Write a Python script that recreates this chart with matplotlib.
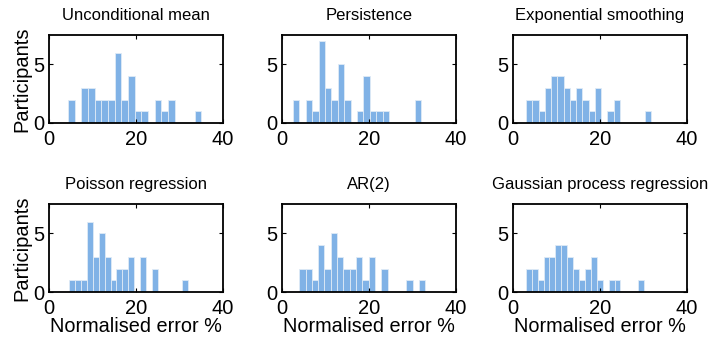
import matplotlib
matplotlib.use("Agg")
import matplotlib.pyplot as plt
import numpy as np

plt.rcParams['font.family'] = ['Liberation Sans', 'DejaVu Sans']

titles = ["Unconditional mean", "Persistence", "Exponential smoothing",
          "Poisson regression", "AR(2)", "Gaussian process regression"]

counts_uncond = [2, 0, 3, 3, 2, 2, 2, 6, 2, 4, 1, 1, 0, 2, 1, 2, 0, 0, 0, 1]
counts_persist = [2, 0, 2, 1, 7, 3, 2, 5, 2, 0, 1, 4, 1, 1, 1, 0, 0, 0, 0, 2]
counts_expsm = [2, 2, 1, 3, 4, 4, 3, 2, 3, 2, 1, 3, 0, 1, 2, 0, 0, 0, 0, 1]
counts_poisson = [1, 1, 1, 6, 3, 5, 3, 1, 2, 2, 3, 0, 3, 0, 2, 0, 0, 0, 0, 1]
counts_ar2 = [2, 2, 1, 4, 2, 5, 3, 2, 2, 3, 1, 3, 0, 2, 0, 0, 0, 1, 0, 1]
counts_gpr = [2, 2, 1, 3, 3, 4, 4, 3, 2, 1, 2, 3, 1, 0, 1, 1, 0, 0, 0, 1]

bin_start = [4.4, 2.55, 3.0, 4.55, 3.97, 2.95]
bin_width = [1.53, 1.47, 1.44, 1.37, 1.45, 1.36]

all_counts = [counts_uncond, counts_persist, counts_expsm,
              counts_poisson, counts_ar2, counts_gpr]

xticks = [0, 20, 40]
yticks = [0, 5]
bar_color = "#80B2E6"

W, H = 713, 338
fig = plt.figure(figsize=(W / 100, H / 100), dpi=100)

lefts = [49, 282, 513]
tops = [35, 204]
aw, ah = 174, 88

for i in range(6):
    r, c = divmod(i, 3)
    ax = fig.add_axes([lefts[c] / W, 1 - (tops[r] + ah) / H, aw / W, ah / H])
    cnt = np.array(all_counts[i])
    edges = bin_start[i] + bin_width[i] * np.arange(len(cnt))
    ax.bar(edges, cnt, width=bin_width[i], align='edge', color=bar_color,
           edgecolor='#dfeaf6', linewidth=0.6)
    ax.set_xlim(0, 40)
    ax.set_ylim(0, 7.5)
    ax.set_xticks(xticks)
    ax.set_yticks(yticks)
    ax.tick_params(direction='in', top=True, right=True, length=3, width=0.8,
                   labelsize=14.5)
    ax.tick_params(axis='x', pad=5)
    ax.tick_params(axis='y', pad=3)
    for s in ax.spines.values():
        s.set_linewidth(1.3)
        s.set_color('black')
    ax.set_title(titles[i], fontsize=12, pad=11)
    if c == 0:
        ax.set_ylabel("Participants", fontsize=14.5, labelpad=2)
    if r == 1:
        ax.set_xlabel("Normalised error %", fontsize=14.3, labelpad=-1)

fig.savefig("out.png", dpi=100)
